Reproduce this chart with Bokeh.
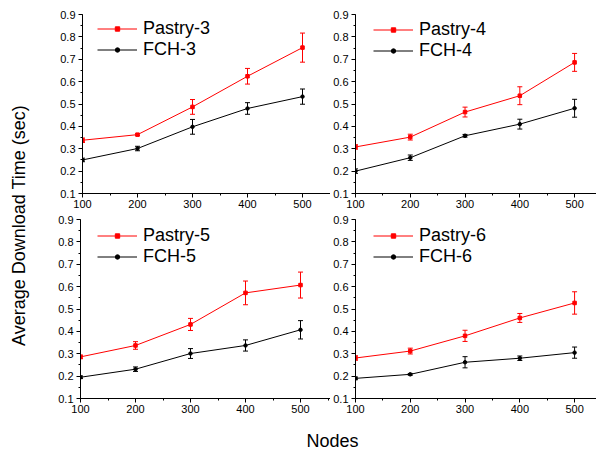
import math
from bokeh.plotting import figure
from bokeh.models import (Range1d, SingleIntervalTicker, Whisker, ColumnDataSource,
                          Legend, LegendItem, Label, TeeHead, CustomJSTickFormatter)
from bokeh.layouts import row, column
from bokeh.embed import file_html
from bokeh.resources import INLINE

# ---------------- data ----------------
nodes = [100, 200, 300, 400, 500]

pastry3 = [0.338, 0.363, 0.487, 0.624, 0.752]
pastry3_err = [0.010, 0.004, 0.033, 0.035, 0.065]
fch3 = [0.250, 0.301, 0.398, 0.480, 0.533]
fch3_err = [0.008, 0.010, 0.033, 0.026, 0.034]

pastry4 = [0.308, 0.352, 0.464, 0.537, 0.686]
pastry4_err = [0.010, 0.013, 0.022, 0.040, 0.040]
fch4 = [0.200, 0.260, 0.358, 0.410, 0.481]
fch4_err = [0.010, 0.012, 0.006, 0.022, 0.040]

pastry5 = [0.286, 0.337, 0.431, 0.572, 0.607]
pastry5_err = [0.008, 0.017, 0.027, 0.053, 0.058]
fch5 = [0.195, 0.231, 0.301, 0.337, 0.407]
fch5_err = [0.006, 0.010, 0.022, 0.025, 0.041]

pastry6 = [0.281, 0.312, 0.380, 0.460, 0.527]
pastry6_err = [0.010, 0.013, 0.025, 0.020, 0.050]
fch6 = [0.190, 0.208, 0.262, 0.280, 0.305]
fch6_err = [0.006, 0.004, 0.025, 0.010, 0.025]

panels = [
    ("Pastry-3", pastry3, pastry3_err, "FCH-3", fch3, fch3_err),
    ("Pastry-4", pastry4, pastry4_err, "FCH-4", fch4, fch4_err),
    ("Pastry-5", pastry5, pastry5_err, "FCH-5", fch5, fch5_err),
    ("Pastry-6", pastry6, pastry6_err, "FCH-6", fch6, fch6_err),
]

y_title = "Average Download Time (sec)"
x_title = "Nodes"

FONT = "Liberation Sans"
RED = "#ff0000"
BLACK = "#000000"
MB_BOTTOM = 22


def make_panel(spec, width, height, mb_left, mb_top, x_end, leg_x, leg_dy):
    pname, pv, pe, fname, fv, fe = spec
    p = figure(width=width, height=height, output_backend="svg", toolbar_location=None,
               x_range=Range1d(100, x_end), y_range=Range1d(0.1, 0.9),
               min_border_left=mb_left, min_border_right=0, min_border_top=mb_top,
               min_border_bottom=MB_BOTTOM)
    p.outline_line_color = None
    p.grid.visible = False
    p.background_fill_color = None
    p.border_fill_color = None

    p.xaxis.ticker = SingleIntervalTicker(interval=100, num_minor_ticks=2)
    p.yaxis.ticker = SingleIntervalTicker(interval=0.1, num_minor_ticks=2)
    p.yaxis.formatter = CustomJSTickFormatter(code="return tick.toFixed(1);")
    for ax in (p.xaxis, p.yaxis):
        ax.axis_line_color = BLACK
        ax.major_tick_line_color = BLACK
        ax.minor_tick_line_color = BLACK
        ax.major_tick_in = 0
        ax.major_tick_out = 4
        ax.minor_tick_in = 0
        ax.minor_tick_out = 2
        ax.major_label_text_font = FONT
        ax.major_label_text_font_size = "11px"
        ax.major_label_text_color = BLACK
    p.xaxis.major_label_standoff = 2
    p.yaxis.major_label_standoff = 3

    items = []
    for name, vals, errs, color, marker in ((pname, pv, pe, RED, "square"),
                                            (fname, fv, fe, BLACK, "circle")):
        src = ColumnDataSource(dict(x=nodes, y=vals,
                                    upper=[v + e for v, e in zip(vals, errs)],
                                    lower=[v - e for v, e in zip(vals, errs)]))
        ln = p.line("x", "y", source=src, line_color=color, line_width=1)
        w = Whisker(base="x", upper="upper", lower="lower", source=src,
                    line_color=color, line_width=1,
                    upper_head=TeeHead(size=5, line_color=color, line_width=1),
                    lower_head=TeeHead(size=5, line_color=color, line_width=1))
        p.add_layout(w)
        sc = p.scatter("x", "y", source=src, marker=marker, size=3.5,
                       fill_color=color, line_color=color)
        items.append(LegendItem(label=name, renderers=[ln, sc]))

    frame_h = height - mb_top - MB_BOTTOM
    leg = Legend(items=items, location=(leg_x, frame_h - 43 - leg_dy), padding=0, margin=0,
                 border_line_color=None, background_fill_alpha=0,
                 glyph_width=40, glyph_height=11, label_height=20, spacing=0,
                 label_standoff=6, label_text_font=FONT,
                 label_text_font_size="18px", label_text_color=BLACK)
    p.add_layout(leg, "center")
    return p


# layout geometry
YW = 38
LW, RW = 292, 266
TH, BH = 215, 205
XH = 33

p1 = make_panel(panels[0], LW, TH, 44, 14, 100 + (LW - 44) / 0.55, 15, 3)
p2 = make_panel(panels[1], RW, TH, 24, 14, 100 + (RW - 24) / 0.55, 18, 4)
p3 = make_panel(panels[2], LW, BH, 42, 4, 100 + (LW - 42) / 0.55, 17, 5)
p4 = make_panel(panels[3], RW, BH, 24, 4, 100 + (RW - 24) / 0.55, 18, 5)

# x title strip
px = figure(width=LW + RW, height=XH, output_backend="svg", toolbar_location=None,
            x_range=Range1d(0, 1), y_range=Range1d(0, 1), min_border=0)
px.axis.visible = False
px.grid.visible = False
px.outline_line_color = None
px.add_layout(Label(x=332 - YW, y=XH - 20, x_units="screen", y_units="screen",
                    text=x_title, text_font=FONT, text_font_size="18px",
                    text_color=BLACK, text_align="center", text_baseline="middle"))

# y title strip
TOT_H = TH + BH + XH
py = figure(width=YW, height=TOT_H, output_backend="svg", toolbar_location=None,
            x_range=Range1d(0, 1), y_range=Range1d(0, 1), min_border=0)
py.axis.visible = False
py.grid.visible = False
py.outline_line_color = None
py.add_layout(Label(x=18, y=TOT_H - 225, x_units="screen", y_units="screen",
                    text=y_title, angle=math.pi / 2,
                    text_font=FONT, text_font_size="18px", text_color=BLACK,
                    text_align="center", text_baseline="middle"))

layout = row(py, column(row(p1, p2), row(p3, p4), px))

open("out.html", "w").write(file_html(layout, INLINE))
